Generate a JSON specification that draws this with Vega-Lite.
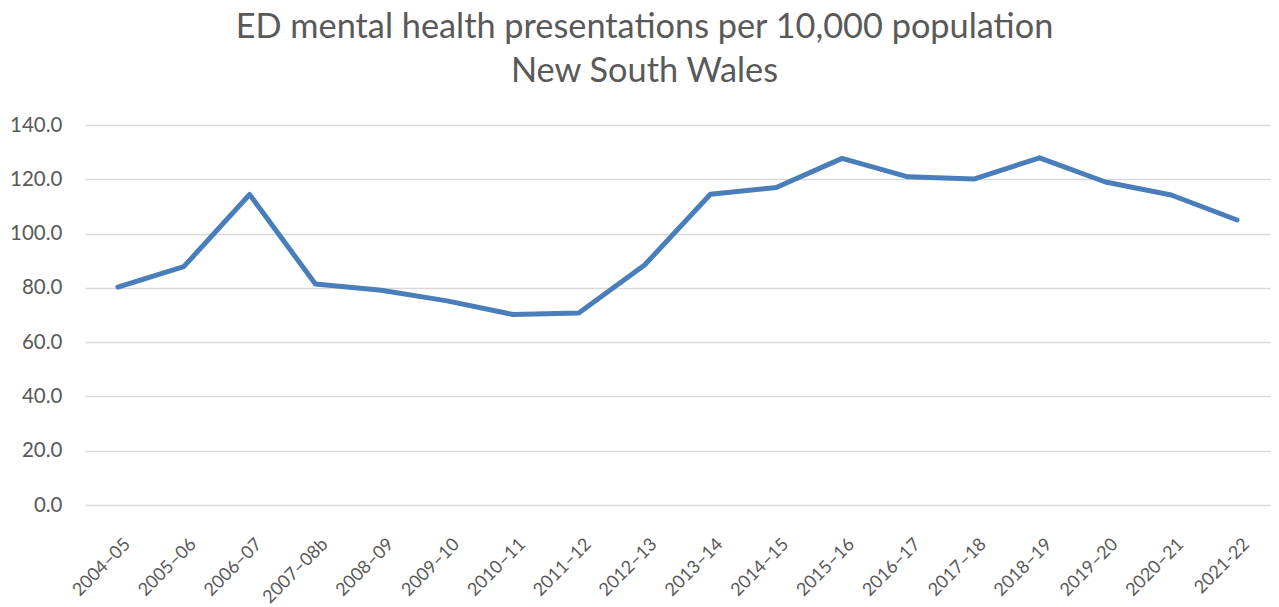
{
  "$schema": "https://vega.github.io/schema/vega-lite/v6.json",
  "autosize": "none",
  "width": 1185,
  "height": 380,
  "padding": {"left": 85, "top": 125, "right": 9, "bottom": 102},
  "background": "white",
  "title": {
    "text": ["ED mental health presentations per 10,000 population", "New South Wales"],
    "font": "Lato",
    "fontSize": 34.3,
    "fontWeight": "normal",
    "color": "#595959",
    "lineHeight": 44,
    "anchor": "middle",
    "dx": -33,
    "offset": 26
  },
  "data": {
    "values": [
      {"year": "2004–05", "value": 80.3},
      {"year": "2005–06", "value": 87.8},
      {"year": "2006–07", "value": 114.4},
      {"year": "2007–08b", "value": 81.4},
      {"year": "2008–09", "value": 79.1},
      {"year": "2009–10", "value": 75.2},
      {"year": "2010–11", "value": 70.2},
      {"year": "2011–12", "value": 70.7},
      {"year": "2012–13", "value": 88.4},
      {"year": "2013–14", "value": 114.5},
      {"year": "2014–15", "value": 117.0},
      {"year": "2015–16", "value": 127.7},
      {"year": "2016–17", "value": 120.9},
      {"year": "2017–18", "value": 120.1},
      {"year": "2018–19", "value": 127.9},
      {"year": "2019–20", "value": 119.0},
      {"year": "2020–21", "value": 114.2},
      {"year": "2021-22", "value": 105.0}
    ]
  },
  "mark": {"type": "line", "color": "#4a7ebb", "strokeWidth": 5, "strokeCap": "round", "strokeJoin": "round"},
  "encoding": {
    "x": {
      "field": "year",
      "type": "ordinal",
      "sort": null,
      "scale": {"type": "point", "padding": 0.5},
      "axis": {
        "title": null,
        "labelAngle": -45,
        "labelFont": "Lato",
        "labelFontSize": 18,
        "labelColor": "#595959",
        "ticks": false,
        "domain": false,
        "grid": false,
        "labelPadding": 30,
        "labelOffset": 3
      }
    },
    "y": {
      "field": "value",
      "type": "quantitative",
      "scale": {"domain": [0, 140]},
      "axis": {
        "title": null,
        "values": [0, 20, 40, 60, 80, 100, 120, 140],
        "format": ".1f",
        "labelFont": "Lato",
        "labelFontSize": 20.5,
        "labelColor": "#595959",
        "ticks": false,
        "domain": false,
        "grid": true,
        "gridColor": "#d9d9d9",
        "gridWidth": 1.5,
        "labelPadding": 23
      }
    }
  },
  "config": {"view": {"stroke": null}}
}
